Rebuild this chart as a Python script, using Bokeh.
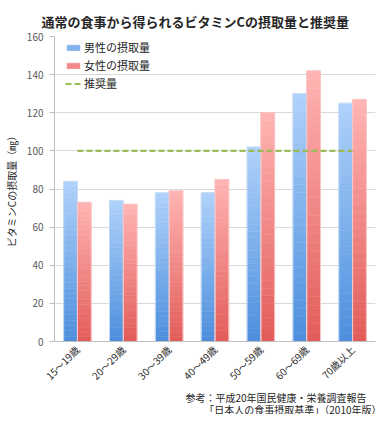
import math
from bokeh.plotting import figure
from bokeh.models import ColumnDataSource, Legend, LegendItem, FactorRange, FixedTicker, Range1d, Title
from bokeh.transform import dodge
from bokeh.embed import file_html
from bokeh.resources import INLINE

# ---------------- data ----------------
categories = ["15～19歳", "20～29歳", "30～39歳", "40～49歳", "50～59歳", "60～69歳", "70歳以上"]
male = [84, 74, 78, 78, 102, 130, 125]
female = [73, 72, 79, 85, 120, 142, 127]
recommended = [100, 100, 100, 100, 100, 100, 100]
y_ticks = [0, 20, 40, 60, 80, 100, 120, 140, 160]
series_names = ["男性の摂取量", "女性の摂取量", "推奨量"]
title_text = "通常の食事から得られるビタミンCの摂取量と推奨量"
y_label_text = "ビタミンCの摂取量（㎎）"
source_note = ["参考：平成20年国民健康・栄養調査報告", "「日本人の食事摂取基準」（2010年版）"]

# ---------------- style ----------------
FONT = "Noto Sans CJK JP"
MALE_TOP, MALE_BOTTOM = (175, 210, 251), (76, 142, 220)
FEMALE_TOP, FEMALE_BOTTOM = (255, 180, 180), (226, 92, 88)
N_SEG = 30
FRAME_W, FRAME_H = 321, 305


def mix(c1, c2, t):
    r, g, b = (round(a + (b_ - a) * t) for a, b_ in zip(c1, c2))
    return "#%02x%02x%02x" % (r, g, b)


def gradient_source(vals, top_c, bottom_c):
    cats, bottoms, tops, colors = [], [], [], []
    for c, v in zip(categories, vals):
        for k in range(N_SEG):
            cats.append(c)
            bottoms.append(v * k / N_SEG)
            tops.append(v * (k + 1) / N_SEG)
            colors.append(mix(bottom_c, top_c, (k + 0.5) / N_SEG))
    return ColumnDataSource(dict(cat=cats, bottom=bottoms, top=tops, color=colors))


p = figure(
    frame_width=FRAME_W, frame_height=FRAME_H,
    x_range=FactorRange(*categories, range_padding=0),
    y_range=Range1d(0, 160),
    output_backend="svg", toolbar_location=None,
    min_border_left=54, min_border_right=4, min_border_top=36, min_border_bottom=72,
)
p.outline_line_color = None
p.background_fill_color = "white"
p.border_fill_color = "white"

# title
p.title.text = title_text
p.title.align = "left"
p.title.offset = -13
p.title.standoff = 12
p.title.text_font = FONT
p.title.text_font_size = "13px"
p.title.text_font_style = "bold"
p.title.text_color = "#262626"

bar_w = 0.3
male_x = dodge("cat", -0.15, range=p.x_range)
female_x = dodge("cat", 0.15, range=p.x_range)

rm = p.vbar(x=male_x, bottom="bottom", top="top", width=bar_w, source=gradient_source(male, MALE_TOP, MALE_BOTTOM),
            fill_color="color", line_color="color", line_width=0.5)
rf = p.vbar(x=female_x, bottom="bottom", top="top", width=bar_w, source=gradient_source(female, FEMALE_TOP, FEMALE_BOTTOM),
            fill_color="color", line_color="color", line_width=0.5)

bars = ColumnDataSource(dict(cat=categories, male=male, female=female, rec=recommended))
p.vbar(x=male_x, top="male", width=bar_w, source=bars, fill_color=None, line_color="#c4dbf6", line_width=1)
p.vbar(x=female_x, top="female", width=bar_w, source=bars, fill_color=None, line_color="#f9c4c4", line_width=1)

rec_line = p.line(x="cat", y="rec", source=bars, line_color="#9bbb59", line_width=2.2, line_dash="6 3")

legend = Legend(items=[
    LegendItem(label=series_names[0], renderers=[rm], index=N_SEG // 2),
    LegendItem(label=series_names[1], renderers=[rf], index=N_SEG // 2),
    LegendItem(label=series_names[2], renderers=[rec_line]),
])
legend.location = (11, FRAME_H - 2 - 3 * 18)
legend.margin = 0
legend.padding = 0
legend.spacing = 0
legend.label_height = 18
legend.glyph_height = 7
legend.glyph_width = 16
legend.label_standoff = 3
legend.label_text_font = FONT
legend.label_text_font_size = "11px"
legend.label_text_color = "#262626"
legend.background_fill_alpha = 0
legend.border_line_color = None
p.add_layout(legend, "center")

# y axis
p.yaxis.ticker = FixedTicker(ticks=y_ticks)
p.yaxis.axis_line_color = "#bfbfbf"
p.yaxis.major_tick_line_color = "#bfbfbf"
p.yaxis.major_tick_out = 5
p.yaxis.major_tick_in = 0
p.yaxis.minor_tick_line_color = None
p.yaxis.major_label_text_font = FONT
p.yaxis.major_label_text_font_size = "10px"
p.yaxis.major_label_text_color = "#595959"
p.yaxis.major_label_standoff = 6
p.yaxis.axis_label = y_label_text
p.yaxis.axis_label_text_font = FONT
p.yaxis.axis_label_text_font_size = "10px"
p.yaxis.axis_label_text_font_style = "normal"
p.yaxis.axis_label_text_color = "#262626"
p.yaxis.axis_label_standoff = 5

# x axis
p.xaxis.axis_line_color = "#bfbfbf"
p.xaxis.major_tick_line_color = None
p.xaxis.major_label_orientation = math.pi / 4
p.xaxis.major_label_text_font = FONT
p.xaxis.major_label_text_font_size = "10px"
p.xaxis.major_label_text_color = "#262626"
p.xaxis.major_label_standoff = 0

p.xgrid.grid_line_color = None
p.ygrid.grid_line_color = "#d9d9d9"
p.ygrid.grid_line_width = 1

# source note (two lines below the axis)
for line, off in zip(source_note, [9, -6]):
    t = Title(text=line, align="right", offset=off, standoff=-5, text_line_height=1.0,
              text_font=FONT, text_font_size="10px", text_font_style="normal", text_color="#262626")
    p.add_layout(t, "below")

open("out.html", "w").write(file_html(p, INLINE))
